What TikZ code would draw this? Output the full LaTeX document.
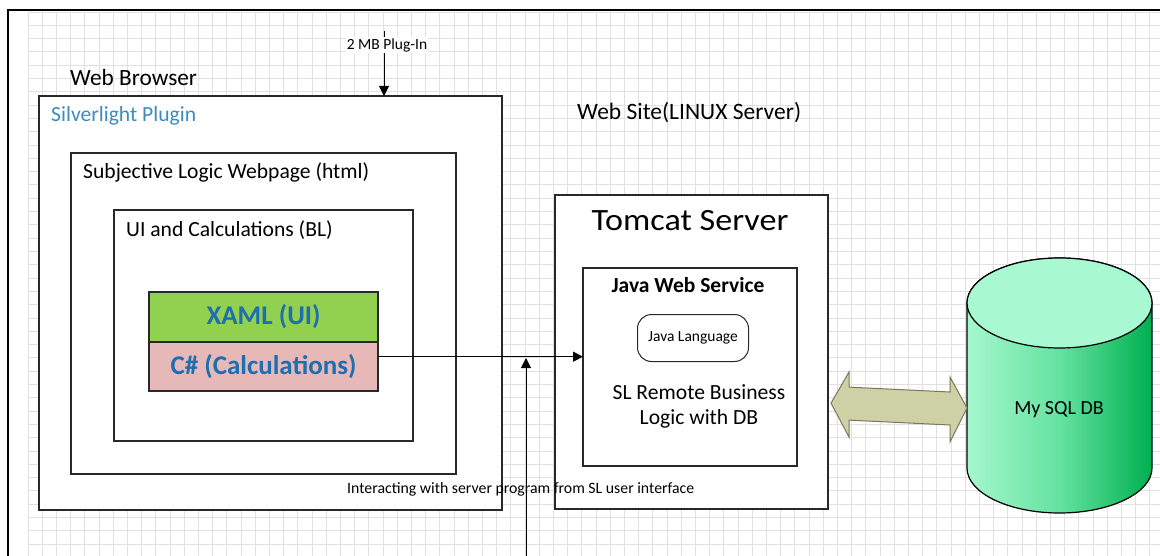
\documentclass[tikz,border=0pt]{standalone}
\usepackage{fontspec}
\setmainfont{Carlito}
\newfontfamily\tomcatfont[FakeStretch=1.1]{Carlito}
\usetikzlibrary{arrows.meta,calc}
\definecolor{slblue}{RGB}{60,140,190}
\definecolor{codeblue}{RGB}{30,110,176}
\definecolor{xamlgreen}{RGB}{146,208,80}
\definecolor{cspink}{RGB}{230,185,184}
\definecolor{gridc}{RGB}{224,224,224}
\definecolor{linec}{RGB}{40,40,40}
\definecolor{khaki}{RGB}{206,208,166}
\definecolor{khakiline}{RGB}{120,120,95}
\definecolor{dbtop}{RGB}{168,248,210}
\definecolor{dbleft}{RGB}{165,248,205}
\definecolor{dbmid}{RGB}{100,226,160}
\definecolor{dbright}{RGB}{0,176,80}
\newcommand{\fsz}[2]{\fontsize{#1}{#2}\selectfont}
\begin{document}
\begin{tikzpicture}[x=1pt,y=-1pt,
  box/.style={draw=linec, line width=1.5pt, fill=white, anchor=north west, inner sep=0pt, outer sep=0pt},
  lbl/.style={anchor=base west, inner sep=0pt},
  clbl/.style={anchor=base, inner sep=0pt},
  conn/.style={draw=black, line width=1pt, -{Triangle[length=10pt,width=10pt]}},
  codebox/.style={draw=linec, line width=1.3pt, anchor=north west, inner sep=0pt, outer sep=0pt, text=codeblue, font=\bfseries\fsz{27}{30}}
]
\useasboundingbox (0,0) rectangle (1160,556);
\clip (0,0) rectangle (1160,556);
\fill[white] (0,0) rectangle (1160,556);
% grid
\foreach \i in {0,...,79} \draw[gridc, line width=0.8pt] ({28+14.2*\i},12) -- ({28+14.2*\i},556);
\foreach \j in {0,...,41} \draw[gridc, line width=0.8pt] (28,{12+13.3*\j}) -- (1160,{12+13.3*\j});
% outer frame
\draw[black, line width=2pt] (8,10) rectangle (1175,575);

% browser side
\node[lbl, font=\fsz{23.3}{27}] (wblbl) at (70,86) {Web Browser};
\node[box, minimum width=463pt, minimum height=414pt] (sl) at (39,96) {};
\node[lbl, text=slblue, font=\fsz{21.6}{25}] (sllbl) at (51,122) {Silverlight Plugin};
\node[box, minimum width=385pt, minimum height=321pt] (web) at (71,153) {};
\node[lbl, font=\fsz{21.6}{25}] (weblbl) at (83,179) {Subjective Logic Webpage (html)};
\node[box, minimum width=299pt, minimum height=231pt] (ui) at (114,210) {};
\node[lbl, font=\fsz{21.6}{25}] (uilbl) at (126,237) {UI and Calculations (BL)};
\node[codebox, fill=xamlgreen, minimum width=229pt, minimum height=50pt] (xaml) at (149,292) {XAML (UI)};
\node[codebox, fill=cspink, minimum width=229pt, minimum height=49pt] (cs) at (149,342) {C\# (Calculations)};

% server side
\node[lbl, font=\fsz{23.5}{27}] (wslbl) at (577,120) {Web Site(LINUX Server)};
\node[box, minimum width=273pt, minimum height=314pt] (tomcat) at (555,195) {};
\node[clbl, font=\tomcatfont\fsz{31}{35}] (tclbl) at (690,231) {Tomcat Server};
\node[box, minimum width=214pt, minimum height=198pt] (jws) at (583,268) {};
\node[clbl, font=\bfseries\fsz{21.5}{25}] (jwslbl) at (688,293) {Java Web Service};
\node[draw=linec, line width=1pt, rounded corners=14pt, anchor=north west, minimum width=111pt, minimum height=47pt, inner sep=0pt, font=\fsz{15.5}{18}] (jl) at (637,314) {Java Language};
\node[align=center, inner sep=0pt, font=\fsz{21.6}{25}] (slr) at (699,406) {SL Remote Business\\Logic with DB};

% database cylinder
\path[draw=black, line width=1.2pt, left color=dbleft, right color=dbright, middle color=dbmid]
  (967,303) -- (967,468) arc[start angle=180, end angle=0, x radius=92.5, y radius=45]
  -- (1152,303) arc[start angle=0, end angle=-180, x radius=92.5, y radius=45] -- cycle;
\draw[fill=dbtop, line width=1.2pt] (1059.5,303) ellipse [x radius=92.5, y radius=45];
\node[clbl, font=\fsz{20}{23}] (db) at (1059,414) {My SQL DB};

% double arrow between Tomcat and DB
\coordinate (dal) at ($(tomcat.east |- db)+(3,-6)$);
\coordinate (dar) at (967,408);
\filldraw[fill=khaki, draw=khakiline, line width=1pt]
  (dal) -- ($(dal)+(18,-31)$) -- ($(dal)+(18,-16)$) -- ($(dar)+(-17,-16)$) -- ($(dar)+(-17,-31)$) -- (dar)
  -- ($(dar)+(-17,34)$) -- ($(dar)+(-17,17)$) -- ($(dal)+(18,17)$) -- ($(dal)+(18,34)$) -- cycle;

% connectors
\coordinate (csout) at ($(cs.north east)!0.3!(cs.south east)$);
\draw[conn] (csout) -- (csout -| jws.west);
\coordinate (vb) at (526,560);
\coordinate (vt) at (526,358);
\draw[conn] (vb) -- (vt);
\coordinate (pt) at (384,31);
\draw[conn] (pt) -- (pt |- sl.north);
\node[fill=white, inner sep=1pt, font=\fsz{15.5}{18}] (pluglbl) at (387,45) {2 MB Plug-In};
\node[lbl, font=\fsz{15.8}{18}] (intlbl) at (347,493) {Interacting with server program from SL user interface};
\end{tikzpicture}
\end{document}
